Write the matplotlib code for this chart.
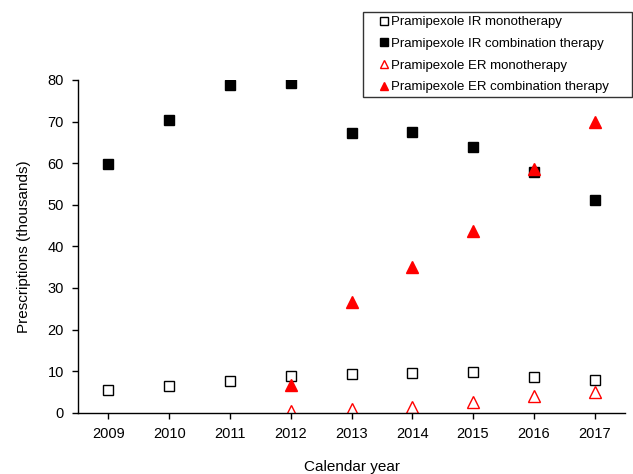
import matplotlib
matplotlib.use("Agg")
import matplotlib.pyplot as plt

plt.rcParams['font.family'] = ['Liberation Sans', 'DejaVu Sans']

years = [2009, 2010, 2011, 2012, 2013, 2014, 2015, 2016, 2017]
ir_mono = [5.5, 6.3, 7.6, 8.8, 9.4, 9.6, 9.7, 8.7, 7.8]
ir_combo = [59.8, 70.4, 78.9, 79.2, 67.3, 67.4, 64.0, 57.8, 51.2]
er_years = [2012, 2013, 2014, 2015, 2016, 2017]
er_mono = [0.3, 1.0, 1.4, 2.5, 4.1, 4.9]
er_combo = [6.7, 26.5, 35.0, 43.8, 58.7, 70.0]

labels = ['Pramipexole IR monotherapy', 'Pramipexole IR combination therapy',
          'Pramipexole ER monotherapy', 'Pramipexole ER combination therapy']

fig = plt.figure(figsize=(6.33, 4.74), dpi=100)
ax = fig.add_axes([78/633, 1-412.7/474, (625-78)/633, (412.7-80)/474])

ax.plot(years, ir_mono, ls='none', marker='s', ms=7.8, mfc='white', mec='black', mew=1.0, label=labels[0])
ax.plot(years, ir_combo, ls='none', marker='s', ms=7.8, mfc='black', mec='black', mew=1.0, label=labels[1])
ax.plot(er_years, er_mono, ls='none', marker='^', ms=8, mfc='white', mec='red', mew=1.0, label=labels[2])
ax.plot(er_years, er_combo, ls='none', marker='^', ms=8, mfc='red', mec='red', mew=1.0, label=labels[3])

ax.set_xlim(2008.5, 2017.5)
ax.set_ylim(0, 80)
ax.set_xticks(years)
ax.set_xticklabels([str(y) for y in years])
ax.set_yticks(range(0, 81, 10))
for s in ['top', 'right']:
    ax.spines[s].set_visible(False)
for s in ['left', 'bottom']:
    ax.spines[s].set_linewidth(1.0)
ax.tick_params(axis='both', direction='out', length=4, width=1.0, labelsize=10.5, pad=6)
ax.set_xlabel('Calendar year', fontsize=11, labelpad=14)
ax.set_ylabel('Prescriptions (thousands)', fontsize=11, labelpad=12)

top = 1 - 12/474
leg = fig.legend(loc='upper left', bbox_to_anchor=(363/633, top - 0.5, 269/633, 0.5),
                 mode='expand', fontsize=9.5,
                 frameon=True, fancybox=False, edgecolor='black', handlelength=2.6,
                 handletextpad=-0.8, borderpad=0.3, labelspacing=0.72, markerscale=0.8,
                 borderaxespad=0)
leg.get_frame().set_linewidth(1.0)

fig.savefig('out.png', dpi=100)
